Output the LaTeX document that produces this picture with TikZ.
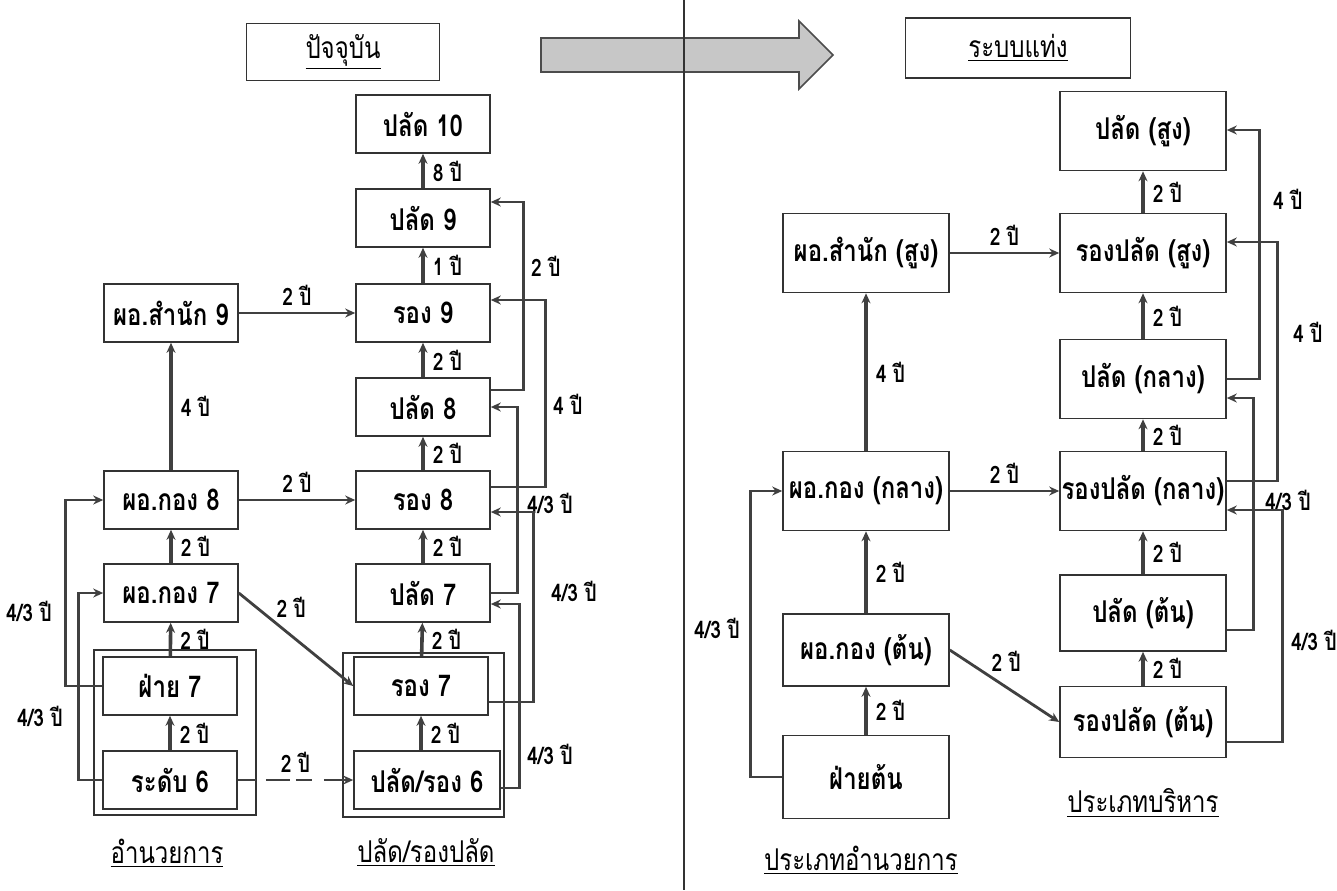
\documentclass[tikz,border=0pt]{standalone}
\usepackage{fontspec}
\newfontfamily\thaifont[Script=Thai,FakeStretch=0.8]{Loma}
\usetikzlibrary{arrows.meta}
\begin{document}
\begin{tikzpicture}[x=0.5pt,y=-0.5pt,
  box/.style={draw=black!80,line width=0.8pt,fill=white,minimum width=67pt,minimum height=29pt,inner sep=0pt,font=\thaifont\bfseries\fontsize{15}{17}\selectfont},
  bigbox/.style={box,minimum width=83pt,minimum height=39.5pt},
  grp/.style={draw=black!80,line width=0.8pt},
  ttl/.style={draw=black!80,line width=0.8pt,inner sep=0pt,font=\thaifont\fontsize{15}{17}\selectfont},
  grpname/.style={font=\thaifont\fontsize{15}{17}\selectfont},
  lab/.style={font=\thaifont\bfseries\fontsize{12}{14}\selectfont,inner sep=1pt},
  arr/.style={draw=black!75,line width=1.4pt,-{Stealth[length=5pt,width=4.5pt]}},
  up/.style={arr,line width=1.8pt}]
\useasboundingbox (0,0) rectangle (1337,890);
% titles and the big arrow
\node[ttl,minimum width=96.5pt,minimum height=28.5pt] (tnow) at (343,52) {\underline{ปัจจุบัน}};
\node[ttl,minimum width=112.5pt,minimum height=30pt] (tnew) at (1018,48) {\underline{ระบบแท่ง}};
\draw[draw=black!70,fill=black!22,line width=0.8pt] (541,38) -- (799,38) -- (799,21) -- (833,55) -- (799,89) -- (799,72) -- (541,72) -- cycle;
\draw[black!80,line width=0.8pt] (684,0) -- (684,890);
% current: pala column
\node[box] (p10) at (423,124) {ปลัด 10};
\node[box] (p9) at (423,218) {ปลัด 9};
\node[box] (r9) at (423,313) {รอง 9};
\node[box] (p8) at (423,407) {ปลัด 8};
\node[box] (r8) at (423,500) {รอง 8};
\node[box] (p7) at (423,593) {ปลัด 7};
\node[box] (r7) at (421,686) {รอง 7};
\node[box,minimum width=73pt] (pr6) at (427,780) {ปลัด/รอง 6};
\draw[grp] (343,653) rectangle (504,817);
% current: director column
\node[box] (d9) at (171,313) {ผอ.สำนัก 9};
\node[box] (d8) at (171,500) {ผอ.กอง 8};
\node[box] (d7) at (171,593) {ผอ.กอง 7};
\node[box] (f7) at (170,686) {ฝ่าย 7};
\node[box] (l6) at (170,780) {ระดับ 6};
\draw[grp] (94,650) rectangle (256,815);
\node[grpname] (c1) at (167,853) {\underline{อำนวยการ}};
\node[grpname] (c2) at (426,853) {\underline{ปลัด/รองปลัด}};
% current: steps
\draw[up] (p9) -- node[lab,right,xshift=3pt] {8 ปี} (p10);
\draw[up] (r9) -- node[lab,right,xshift=3pt] {1 ปี} (p9);
\draw[up] (p8) -- node[lab,right,xshift=3pt] {2 ปี} (r9);
\draw[up] (r8) -- node[lab,right,xshift=3pt] {2 ปี} (p8);
\draw[up] (p7) -- node[lab,right,xshift=3pt] {2 ปี} (r8);
\draw[up] (r7) -- node[lab,right,xshift=3pt] {2 ปี} (p7);
\draw[up] (pr6.north -| r7) -- node[lab,right,xshift=3pt] {2 ปี} (r7);
\draw[up] (d8) -- node[lab,right,xshift=3pt] {4 ปี} (d9);
\draw[up] (d7) -- node[lab,right,xshift=3pt] {2 ปี} (d8);
\draw[up] (f7) -- node[lab,right,xshift=3pt] {2 ปี} (d7);
\draw[up] (l6) -- node[lab,right,xshift=3pt] {2 ปี} (f7);
\draw[arr] (d9) -- node[lab,above,yshift=2pt] {2 ปี} (r9);
\draw[arr] (d8) -- node[lab,above,yshift=2pt] {2 ปี} (r8);
\draw[arr] (d7.east) -- node[lab,pos=0.3,above right] {2 ปี} (r7.west);
\draw[arr,dash pattern=on 9pt off 5pt on 12pt off 3pt on 8pt off 6pt on 20pt] (l6) -- node[lab,above,yshift=2pt] {2 ปี} (pr6);
\draw[arr] (f7.west) -- ++(-37,0) |- node[lab,left,pos=0.2,xshift=-5pt] {4/3 ปี} (d8.west);
\draw[arr] (l6.west) -- ++(-24,0) |- node[lab,left,pos=0.17,xshift=-6pt] {4/3 ปี} (d7.west);
\draw[arr] ([yshift=8.5pt]p8.east) -- ++(33,0) |- node[lab,right,pos=0.33,xshift=2pt] {2 ปี} ([yshift=8pt]p9.east);
\draw[arr] ([yshift=6.5pt]r8.east) -- ++(55,0) |- node[lab,right,pos=0.22,xshift=2pt] {4 ปี} ([yshift=6.5pt]r9.east);
\draw[arr] (p7.east) -- ++(27,0) |- node[lab,right,pos=0.24,xshift=3pt] {4/3 ปี} (p8.east);
\draw[arr] ([yshift=-8pt]r7.east) -- ++(45,0) |- node[lab,right,pos=0.29,xshift=7pt] {4/3 ปี} ([yshift=-6pt]r8.east);
\draw[arr] ([yshift=-4pt]pr6.east) -- ++(19,0) |- node[lab,right,pos=0.09,xshift=2pt] {4/3 ปี} ([yshift=-5.5pt]p7.east);
% new: executive column
\node[bigbox] (ps) at (1143,131) {ปลัด (สูง)};
\node[bigbox] (rs) at (1143,253) {รองปลัด (สูง)};
\node[bigbox] (pm) at (1143,379) {ปลัด (กลาง)};
\node[bigbox] (rm) at (1143,491) {รองปลัด (กลาง)};
\node[bigbox,minimum height=38pt] (pl) at (1143,613) {ปลัด (ต้น)};
\node[bigbox,minimum height=35.5pt] (rl) at (1143,722) {รองปลัด (ต้น)};
% new: director column
\node[bigbox] (ds) at (866,253) {ผอ.สำนัก (สูง)};
\node[bigbox] (dm) at (866,491) {ผอ.กอง (กลาง)};
\node[bigbox,minimum height=36pt] (dl) at (866,650) {ผอ.กอง (ต้น)};
\node[bigbox,minimum height=41.5pt] (fl) at (866,777) {ฝ่ายต้น};
\node[grpname] (c3) at (1143,803) {\underline{ประเภทบริหาร}};
\node[grpname] (c4) at (861,860) {\underline{ประเภทอำนวยการ}};
% new: steps
\draw[up] (rs) -- node[lab,right,xshift=3pt] {2 ปี} (ps);
\draw[up] (pm) -- node[lab,right,xshift=3pt] {2 ปี} (rs);
\draw[up] (rm) -- node[lab,right,xshift=3pt] {2 ปี} (pm);
\draw[up] (pl) -- node[lab,right,xshift=3pt] {2 ปี} (rm);
\draw[up] (rl) -- node[lab,right,xshift=3pt] {2 ปี} (pl);
\draw[up] (dm) -- node[lab,right,xshift=3pt] {4 ปี} (ds);
\draw[up] (dl) -- node[lab,right,xshift=3pt] {2 ปี} (dm);
\draw[up] (fl) -- node[lab,right,xshift=3pt] {2 ปี} (dl);
\draw[arr] (ds) -- node[lab,above,yshift=2pt] {2 ปี} (rs);
\draw[arr] (dm) -- node[lab,above,yshift=2pt] {2 ปี} (rm);
\draw[arr] (dl.east) -- node[lab,pos=0.35,above right] {2 ปี} (rl.west);
\draw[arr] (fl.west) -- ++(-32,0) |- node[lab,left,pos=0.26,xshift=-3.5pt] {4/3 ปี} (dm.west);
\draw[arr] (pm.east) -- ++(33,0) |- node[lab,right,pos=0.36,xshift=5pt] {4 ปี} ([yshift=0.5pt]ps.east);
\draw[arr] ([yshift=5pt]rm.east) -- ++(51,0) |- node[lab,right,pos=0.31,xshift=6pt] {4 ปี} ([yshift=5.5pt]rs.east);
\draw[arr] ([yshift=-8.5pt]pl.east) -- ++(27,0) |- node[lab,right,pos=0.28,xshift=4pt] {4/3 ปี} ([yshift=-9.5pt]pm.east);
\draw[arr] ([yshift=-10pt]rl.east) -- ++(56,0) |- node[lab,right,pos=0.22,xshift=2.5pt] {4/3 ปี} ([yshift=-9.5pt]rm.east);
\end{tikzpicture}
\end{document}
